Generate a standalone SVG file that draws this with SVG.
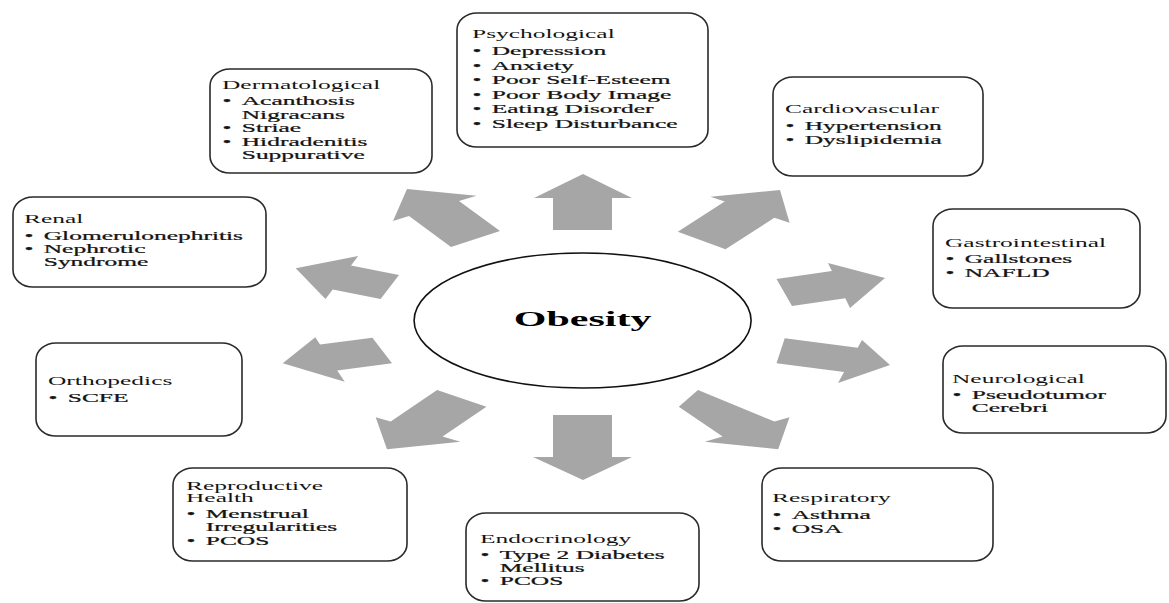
<svg xmlns="http://www.w3.org/2000/svg" width="1169" height="603" viewBox="0 0 1169 603">
<style>
.box{fill:#fff;stroke:#2a2a2a;stroke-width:1.6}
.t{font-family:"Liberation Serif","Times New Roman",serif;font-size:13.4px;fill:#141414}
.i{stroke:#141414;stroke-width:0.25}
.arr{fill:#a6a6a6;stroke:none}
.ob{font-family:"Liberation Serif","Times New Roman",serif;font-size:21px;font-weight:bold;fill:#000}
</style>
<rect width="1169" height="603" fill="#fff"/>
<g id="connectors">
<polygon class="arr" points="583,174 632,198 612,198 612,230 553,230 553,198 534,198"/>
<polygon class="arr" points="583,480 632,457 612,457 612,415 553,415 553,457 533,457"/>
<polygon class="arr" points="407,189 476.5,195.7 459,201 500,231 451,247 409,216 393,221"/>
<polygon class="arr" points="780,190 789.6,222.7 774.4,217.7 725.5,249.3 677.8,231.7 724.7,201.4 710.4,196.7"/>
<polygon class="arr" points="295.7,268.3 358.2,256 351,265.5 399,275 380.6,299 332.7,289.5 325.5,299"/>
<polygon class="arr" points="282.7,363.3 315.3,337.3 320,344.4 372.4,337.7 392,363.3 337.2,370.4 344.7,381.7"/>
<polygon class="arr" points="885,278 850,308 845.3,298.3 792,306 776.5,279 831.9,271 828,263"/>
<polygon class="arr" points="890,365 838,383 844.1,372.1 776.5,363.3 784.7,338.3 857.7,347.8 862,340"/>
<polygon class="arr" points="387,449.3 375.7,417.3 390.7,421.6 437.1,390 486.4,406.7 442.6,436.6 460.4,441.7"/>
<polygon class="arr" points="778.2,449.3 704.8,441.7 722.6,436.6 678.8,406.7 698,390 774.5,421.6 789.5,417.3"/>
</g>
<g id="obesity">
<ellipse cx="582.6" cy="320.5" rx="168.5" ry="67.5" fill="#fff" stroke="#111" stroke-width="1.6"/>
<text class="ob" transform="matrix(2,0,0,1,582.6,0)" x="0" y="326" text-anchor="middle">Obesity</text>
</g>
<g id="psychological">
<rect class="box" x="457" y="13" width="251" height="134" rx="20" ry="17"/>
<text class="t" transform="matrix(1.9,0,0,1,472,0)"><tspan x="0" y="38">Psychological</tspan><tspan x="0.3" y="55" class="i">•</tspan><tspan x="10.4" y="55" class="i">Depression</tspan><tspan x="0.3" y="70" class="i">•</tspan><tspan x="10.4" y="70" class="i">Anxiety</tspan><tspan x="0.3" y="84.5" class="i">•</tspan><tspan x="10.4" y="84.5" class="i">Poor Self-Esteem</tspan><tspan x="0.3" y="99.3" class="i">•</tspan><tspan x="10.4" y="99.3" class="i">Poor Body Image</tspan><tspan x="0.3" y="113.5" class="i">•</tspan><tspan x="10.4" y="113.5" class="i">Eating Disorder</tspan><tspan x="0.3" y="128.3" class="i">•</tspan><tspan x="10.4" y="128.3" class="i">Sleep Disturbance</tspan></text>
</g>
<g id="dermatological">
<rect class="box" x="210" y="69" width="222" height="104" rx="20" ry="17"/>
<text class="t" transform="matrix(1.9,0,0,1,222,0)"><tspan x="0" y="89">Dermatological</tspan><tspan x="0.3" y="105.5" class="i">•</tspan><tspan x="10.4" y="105.5" class="i">Acanthosis</tspan><tspan x="10.4" y="119" class="i">Nigracans</tspan><tspan x="0.3" y="132.5" class="i">•</tspan><tspan x="10.4" y="132.5" class="i">Striae</tspan><tspan x="0.3" y="146" class="i">•</tspan><tspan x="10.4" y="146" class="i">Hidradenitis</tspan><tspan x="10.4" y="159.5" class="i">Suppurative</tspan></text>
</g>
<g id="cardiovascular">
<rect class="box" x="773" y="77" width="210" height="99" rx="20" ry="17"/>
<text class="t" transform="matrix(1.9,0,0,1,785,0)"><tspan x="0" y="113">Cardiovascular</tspan><tspan x="0.3" y="130" class="i">•</tspan><tspan x="10.4" y="130" class="i">Hypertension</tspan><tspan x="0.3" y="144.5" class="i">•</tspan><tspan x="10.4" y="144.5" class="i">Dyslipidemia</tspan></text>
</g>
<g id="gastrointestinal">
<rect class="box" x="933" y="209" width="207" height="99" rx="20" ry="17"/>
<text class="t" transform="matrix(1.9,0,0,1,945,0)"><tspan x="0" y="247">Gastrointestinal</tspan><tspan x="0.3" y="263" class="i">•</tspan><tspan x="10.4" y="263" class="i">Gallstones</tspan><tspan x="0.3" y="277" class="i">•</tspan><tspan x="10.4" y="277" class="i">NAFLD</tspan></text>
</g>
<g id="renal">
<rect class="box" x="13" y="197" width="253" height="90" rx="20" ry="17"/>
<text class="t" transform="matrix(1.9,0,0,1,24,0)"><tspan x="0" y="223">Renal</tspan><tspan x="0.3" y="240" class="i">•</tspan><tspan x="10.4" y="240" class="i">Glomerulonephritis</tspan><tspan x="0.3" y="253.5" class="i">•</tspan><tspan x="10.4" y="253.5" class="i">Nephrotic</tspan><tspan x="10.4" y="266.5" class="i">Syndrome</tspan></text>
</g>
<g id="orthopedics">
<rect class="box" x="36" y="343" width="206" height="93" rx="20" ry="17"/>
<text class="t" transform="matrix(1.9,0,0,1,48,0)"><tspan x="0" y="385">Orthopedics</tspan><tspan x="0.3" y="402" class="i">•</tspan><tspan x="10.4" y="402" class="i">SCFE</tspan></text>
</g>
<g id="neurological">
<rect class="box" x="943" y="346" width="223" height="87" rx="20" ry="17"/>
<text class="t" transform="matrix(1.9,0,0,1,952,0)"><tspan x="0" y="383">Neurological</tspan><tspan x="0.3" y="399" class="i">•</tspan><tspan x="10.4" y="399" class="i">Pseudotumor</tspan><tspan x="10.4" y="412" class="i">Cerebri</tspan></text>
</g>
<g id="reproductive">
<rect class="box" x="173" y="468" width="234" height="93" rx="20" ry="17"/>
<text class="t" transform="matrix(1.9,0,0,1,186,0)"><tspan x="0" y="490">Reproductive</tspan><tspan x="0" y="502.5">Health</tspan><tspan x="0.3" y="518.5" class="i">•</tspan><tspan x="10.4" y="518.5" class="i">Menstrual</tspan><tspan x="10.4" y="531.5" class="i">Irregularities</tspan><tspan x="0.3" y="545" class="i">•</tspan><tspan x="10.4" y="545" class="i">PCOS</tspan></text>
</g>
<g id="endocrinology">
<rect class="box" x="466" y="513" width="233" height="88" rx="20" ry="17"/>
<text class="t" transform="matrix(1.9,0,0,1,480,0)"><tspan x="0" y="543">Endocrinology</tspan><tspan x="0.3" y="559.5" class="i">•</tspan><tspan x="10.4" y="559.5" class="i">Type 2 Diabetes</tspan><tspan x="10.4" y="572" class="i">Mellitus</tspan><tspan x="0.3" y="585" class="i">•</tspan><tspan x="10.4" y="585" class="i">PCOS</tspan></text>
</g>
<g id="respiratory">
<rect class="box" x="762" y="468" width="231" height="93" rx="20" ry="17"/>
<text class="t" transform="matrix(1.9,0,0,1,772,0)"><tspan x="0" y="502">Respiratory</tspan><tspan x="0.3" y="519" class="i">•</tspan><tspan x="10.4" y="519" class="i">Asthma</tspan><tspan x="0.3" y="533" class="i">•</tspan><tspan x="10.4" y="533" class="i">OSA</tspan></text>
</g>
</svg>
